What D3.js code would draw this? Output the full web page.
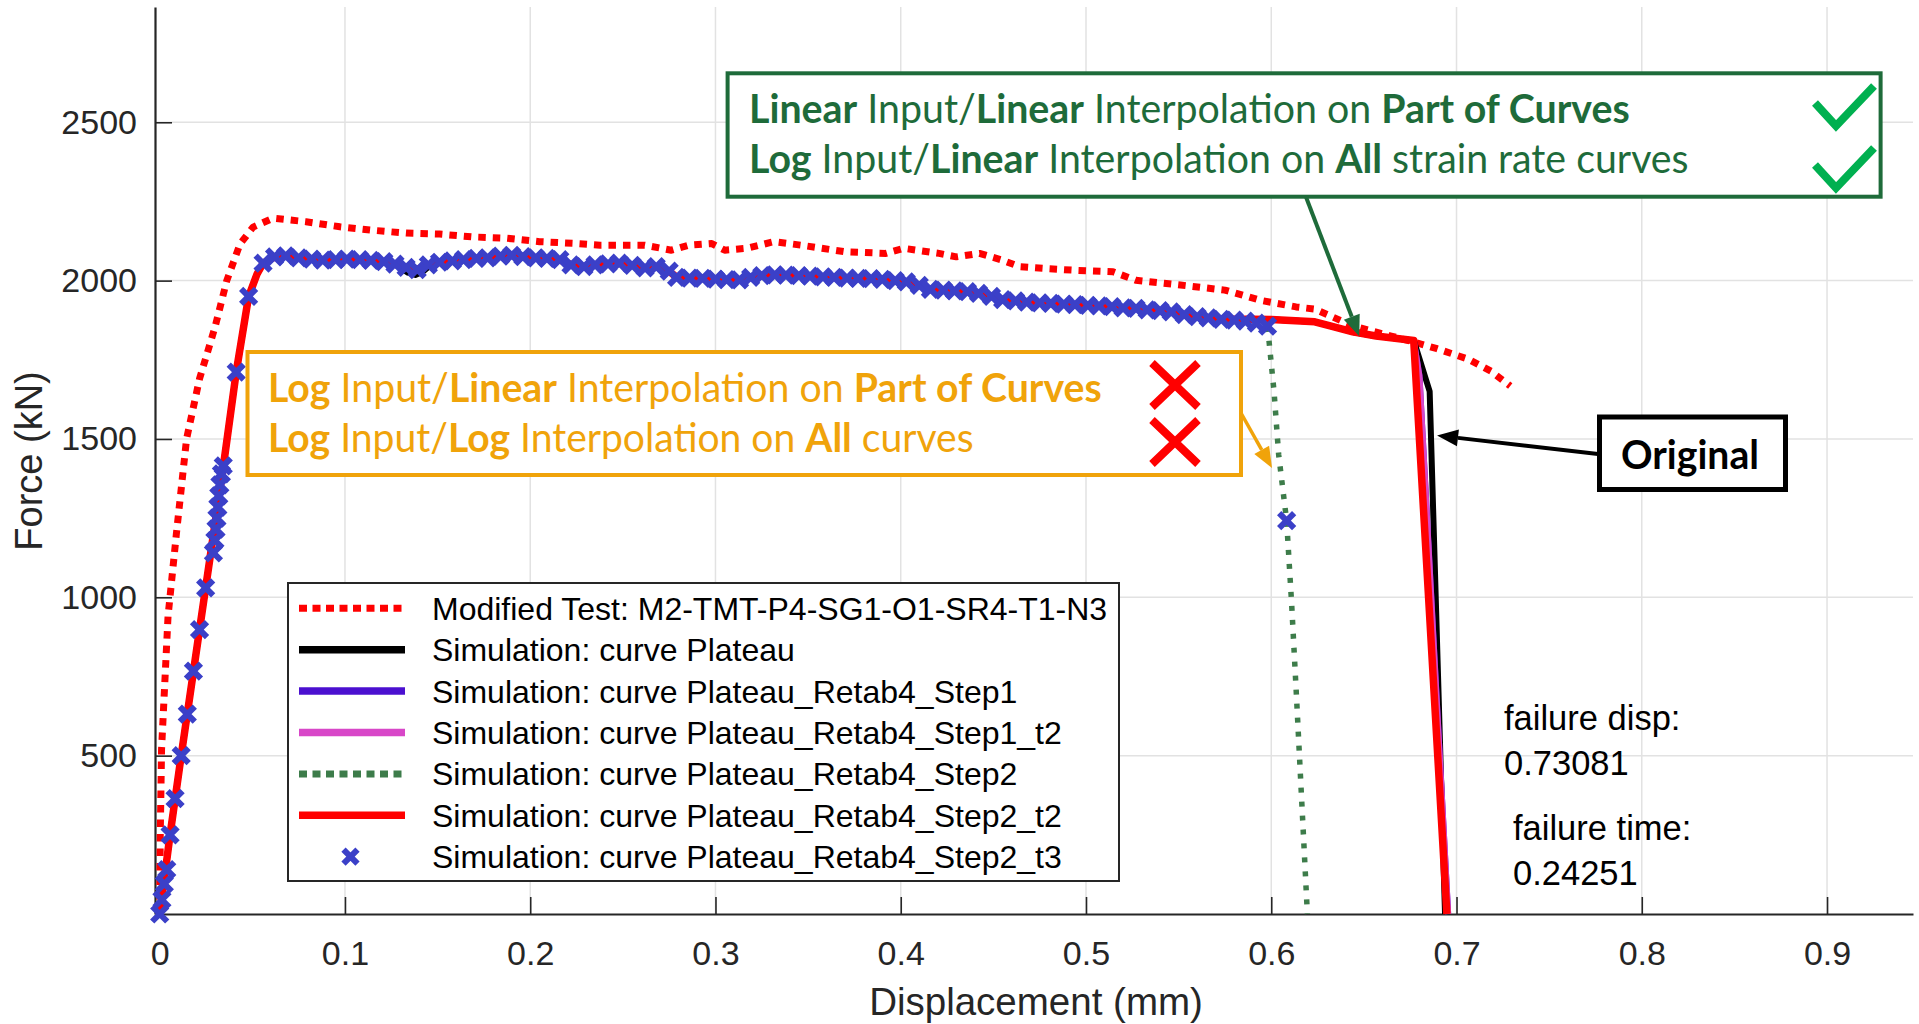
<!DOCTYPE html>
<html>
<head>
<meta charset="utf-8">
<script src="https://cdn.jsdelivr.net/npm/d3@7"></script>
<style>
  body { margin: 0; background: #fff; }
  svg { display: block; }
  .tick text { font-family: "Liberation Sans", Arial, sans-serif; font-size: 34px; fill: #262626; }
  .note { font-family: Lato, "Open Sans", sans-serif; white-space: pre; }
</style>
</head>
<body>
<svg id="chart" width="1919" height="1024"></svg>
<script>
// ---- data (displacement mm, force kN) ----
var xTicks = [0, 0.1, 0.2, 0.3, 0.4, 0.5, 0.6, 0.7, 0.8, 0.9]
var xTickLabels = ["0", "0.1", "0.2", "0.3", "0.4", "0.5", "0.6", "0.7", "0.8", "0.9"]
var yTicks = [500, 1000, 1500, 2000, 2500]
var yTickLabels = ["500", "1000", "1500", "2000", "2500"]

var testCurve = [[0, 0], [0.0003, 250], [0.001, 520], [0.0045, 940], [0.009, 1200], [0.0145, 1500],
    [0.0215, 1690], [0.0299, 1854], [0.0362, 2000], [0.0433, 2115], [0.0504, 2169], [0.0612, 2197],
    [0.079, 2186], [0.0973, 2170], [0.115, 2159], [0.133, 2150], [0.151, 2147], [0.169, 2138],
    [0.187, 2134], [0.205, 2123], [0.223, 2118], [0.2377, 2112], [0.2618, 2112], [0.2762, 2096],
    [0.2857, 2112], [0.298, 2117], [0.305, 2096], [0.317, 2102], [0.3316, 2123], [0.346, 2112],
    [0.370, 2091], [0.392, 2086], [0.4016, 2102], [0.4207, 2086], [0.430, 2075], [0.4425, 2086],
    [0.4546, 2065], [0.4642, 2044], [0.4786, 2038], [0.493, 2033], [0.5146, 2028], [0.5269, 2001],
    [0.551, 1986], [0.575, 1970], [0.594, 1938], [0.6134, 1917], [0.6235, 1910], [0.644, 1857],
    [0.6647, 1825], [0.6771, 1806], [0.6895, 1785], [0.7063, 1752], [0.7186, 1714], [0.729, 1667]]

var simRise = [[0, 0], [0.0056, 250], [0.0116, 500], [0.0215, 898], [0.0343, 1411], [0.0413, 1711],
    [0.048, 1950], [0.0525, 2020], [0.0558, 2055]]

var simPlateau = [[0.062, 2075], [0.068, 2078], [0.075, 2072], [0.082, 2068], [0.088, 2065], [0.095, 2066],
    [0.101, 2068], [0.108, 2066], [0.114, 2064], [0.121, 2060], [0.127, 2052], [0.133, 2042], [0.139, 2035],
    [0.145, 2050], [0.151, 2058], [0.158, 2062], [0.164, 2066], [0.171, 2070], [0.177, 2072], [0.184, 2077],
    [0.190, 2080], [0.196, 2076], [0.203, 2072], [0.209, 2070], [0.216, 2066], [0.222, 2050], [0.229, 2044],
    [0.235, 2050], [0.242, 2053], [0.248, 2055], [0.255, 2048], [0.262, 2040], [0.268, 2044], [0.275, 2030],
    [0.279, 2010], [0.286, 2008], [0.293, 2007], [0.300, 2005], [0.306, 2003], [0.313, 2002], [0.319, 2010],
    [0.325, 2016], [0.332, 2018], [0.338, 2017], [0.345, 2016], [0.351, 2014], [0.358, 2012], [0.364, 2010],
    [0.371, 2008], [0.377, 2007], [0.384, 2006], [0.390, 2004], [0.397, 2000], [0.403, 1996], [0.410, 1985],
    [0.416, 1972], [0.423, 1970], [0.429, 1968], [0.436, 1965], [0.442, 1960], [0.449, 1950], [0.455, 1940],
    [0.462, 1936], [0.468, 1932], [0.475, 1930], [0.481, 1928], [0.488, 1926], [0.494, 1924], [0.501, 1922],
    [0.507, 1920], [0.514, 1918], [0.520, 1914], [0.527, 1912], [0.533, 1908], [0.540, 1905], [0.546, 1901],
    [0.553, 1893], [0.560, 1886], [0.566, 1882], [0.573, 1878], [0.580, 1875], [0.586, 1872], [0.592, 1866],
    [0.598, 1856]]

// original curve dips a little below the others near 0.14
var plateauDip = [[0.130, 2040], [0.134, 2025], [0.138, 2018], [0.142, 2028], [0.146, 2048]]

var plateauTail = [[0.580, 1878], [0.590, 1878], [0.600, 1877], [0.6235, 1870], [0.6318, 1857], [0.644, 1838],
    [0.6566, 1825], [0.6769, 1811], [0.6855, 1650], [0.6938, 0]]
var step1Tail = [[0.580, 1878], [0.590, 1878], [0.600, 1877], [0.6235, 1870], [0.6318, 1857], [0.644, 1838],
    [0.6566, 1825], [0.6769, 1811], [0.6800, 1700], [0.6955, 0]]
var step2Tail = [[0.6015, 1650], [0.604, 1450], [0.6083, 1242], [0.611, 980], [0.6135, 700], [0.6165, 350], [0.6195, 0]]
var step2t2Tail = [[0.580, 1878], [0.590, 1878], [0.600, 1877], [0.6235, 1870], [0.6318, 1857], [0.644, 1838],
    [0.6566, 1825], [0.6769, 1811], [0.6948, 0]]

var markerRise = [[0, 0], [0.0012, 45], [0.0025, 95], [0.0038, 140], [0.0056, 250], [0.0083, 364], [0.0116, 500],
    [0.0149, 631], [0.0182, 767], [0.0215, 898], [0.0248, 1030], [0.0290, 1140], [0.0298, 1180], [0.0304, 1215],
    [0.0309, 1250], [0.0314, 1285], [0.0319, 1320], [0.0325, 1355], [0.0333, 1390], [0.0343, 1415],
    [0.0413, 1711], [0.048, 1950], [0.0558, 2055]]
var markerTail = [[0.6083, 1242]]

var legendNames = ["Modified Test: M2-TMT-P4-SG1-O1-SR4-T1-N3", "Simulation: curve Plateau",
    "Simulation: curve Plateau_Retab4_Step1", "Simulation: curve Plateau_Retab4_Step1_t2",
    "Simulation: curve Plateau_Retab4_Step2", "Simulation: curve Plateau_Retab4_Step2_t2",
    "Simulation: curve Plateau_Retab4_Step2_t3"]

// ---- build series ----
var beforeTail = simPlateau.filter(d => d[0] < 0.577)
var plateauCurve = simRise.concat(beforeTail.filter(d => d[0] < 0.128 || d[0] > 0.147), plateauDip, plateauTail)
    .sort((a, b) => a[0] - b[0])
var step1Curve = simRise.concat(beforeTail, step1Tail)
var step2Curve = simRise.concat(simPlateau, step2Tail)
var step2t2Curve = simRise.concat(beforeTail, step2t2Tail)
var step2t3Points = markerRise.concat(simPlateau, markerTail)

var series = [
    { data: testCurve, color: "#ff0000", width: 7, dash: "7.5,7" },
    { data: plateauCurve, color: "#000000", width: 6 },
    { data: step1Curve, color: "#4b10d0", width: 6 },
    { data: step1Curve, color: "#d847c8", width: 6 },
    { data: step2Curve, color: "#3d7c4a", width: 5.5, dash: "5,9" },
    { data: step2t2Curve, color: "#ff0000", width: 7.5 },
    { data: step2t3Points, color: "#3b40c8", marker: true }
]

var svg = d3.select("#chart")
var x = d3.scaleLinear().domain([-0.002537, 0.9464]).range([155, 1913])
var y = d3.scaleLinear().domain([0, 2864]).range([914, 7])

// grid
var grid = svg.append("g").attr("stroke", "#e2e2e2").attr("stroke-width", 1.5)
grid.selectAll(".vg").data(xTicks.slice(1)).enter().append("line")
    .attr("x1", d => x(d)).attr("x2", d => x(d)).attr("y1", y.range()[1]).attr("y2", y.range()[0])
grid.selectAll(".hg").data(yTicks).enter().append("line")
    .attr("x1", x.range()[0]).attr("x2", x.range()[1]).attr("y1", d => y(d)).attr("y2", d => y(d))

// axes
var xAxis = d3.axisBottom(x).tickValues(xTicks).tickFormat((d, i) => xTickLabels[i])
    .tickSizeInner(-17).tickSizeOuter(0).tickPadding(27)
var yAxis = d3.axisLeft(y).tickValues(yTicks).tickFormat((d, i) => yTickLabels[i])
    .tickSizeInner(-17).tickSizeOuter(0).tickPadding(18)

var gx = svg.append("g").attr("transform", "translate(0,914)").call(xAxis)
var gy = svg.append("g").attr("transform", "translate(155,0)").call(yAxis)
gx.select(".domain").attr("stroke", "#262626").attr("stroke-width", 2.2)
gy.select(".domain").attr("stroke", "#262626").attr("stroke-width", 2.2)
gx.selectAll(".tick line").attr("stroke", "#262626").attr("stroke-width", 1.6)
gy.selectAll(".tick line").attr("stroke", "#262626").attr("stroke-width", 1.6)

svg.append("text").attr("x", 1036).attr("y", 1015).attr("text-anchor", "middle")
    .attr("font-family", "Liberation Sans, Arial, sans-serif").attr("font-size", 38.5).attr("fill", "#262626")
    .text("Displacement (mm)")
svg.append("text").attr("transform", "translate(42,461) rotate(-90)").attr("text-anchor", "middle")
    .attr("font-family", "Liberation Sans, Arial, sans-serif").attr("font-size", 38).attr("fill", "#262626")
    .text("Force (kN)")

// curves
var line = d3.line().x(d => x(d[0])).y(d => y(d[1]))
function xPath(cx, cy, h) {
    return `M${cx - h},${cy - h}L${cx + h},${cy + h}M${cx - h},${cy + h}L${cx + h},${cy - h}`
}
series.forEach(function (s) {
    if (s.marker) {
        svg.append("g").selectAll("path").data(s.data).enter().append("path")
            .attr("d", d => xPath(x(d[0]), y(d[1]), 7.5))
            .attr("stroke", s.color).attr("stroke-width", 6).attr("fill", "none")
    } else {
        svg.append("path").datum(s.data).attr("d", line)
            .attr("fill", "none").attr("stroke", s.color).attr("stroke-width", s.width)
            .attr("stroke-dasharray", s.dash || null).attr("stroke-linejoin", "round")
    }
})

// legend
var lg = svg.append("g")
lg.append("rect").attr("x", 288).attr("y", 583).attr("width", 831).attr("height", 298)
    .attr("fill", "#fff").attr("stroke", "#262626").attr("stroke-width", 2)
series.forEach(function (s, i) {
    var cy = 608.3 + i * 41.4
    if (s.marker) {
        lg.append("path").attr("d", xPath(350.5, cy, 7)).attr("stroke", s.color).attr("stroke-width", 6)
    } else {
        lg.append("line").attr("x1", 299).attr("x2", 405).attr("y1", cy).attr("y2", cy)
            .attr("stroke", s.color).attr("stroke-width", s.dash ? 7 : 7.5)
            .attr("stroke-dasharray", s.dash ? "8,5.5" : null)
    }
    lg.append("text").attr("x", 432).attr("y", cy + 11.5)
        .attr("font-family", "Liberation Sans, Arial, sans-serif").attr("font-size", 32).attr("fill", "#000")
        .text(legendNames[i])
})

// failure notes
var notes = [["failure disp:", 1504, 730], ["0.73081", 1504, 775], ["failure time:", 1513, 840], ["0.24251", 1513, 885]]
notes.forEach(function (n) {
    svg.append("text").attr("x", n[1]).attr("y", n[2])
        .attr("font-family", "Liberation Sans, Arial, sans-serif").attr("font-size", 34.5).attr("fill", "#000")
        .text(n[0])
})

// annotation boxes
function arrow(x1, y1, x2, y2, color, w) {
    var a = Math.atan2(y2 - y1, x2 - x1), L = 21, H = 8.5
    var bx = x2 - L * Math.cos(a), by = y2 - L * Math.sin(a)
    svg.append("line").attr("x1", x1).attr("y1", y1).attr("x2", bx).attr("y2", by)
        .attr("stroke", color).attr("stroke-width", w)
    svg.append("path").attr("fill", color)
        .attr("d", `M${x2},${y2}L${bx + H * Math.sin(a)},${by - H * Math.cos(a)}L${bx - H * Math.sin(a)},${by + H * Math.cos(a)}Z`)
}
// mixed bold/regular line, squeezed horizontally to the width seen in the picture
function richText(xp, yp, parts, color, len, size) {
    var t = svg.append("text").attr("class", "note").attr("x", 0).attr("y", 0)
        .attr("font-size", size).attr("fill", color)
    parts.forEach(p => t.append("tspan").attr("font-weight", p[1] ? 700 : 400).text(p[0]))
    var w = t.node().getComputedTextLength()
    t.attr("transform", `translate(${xp},${yp}) scale(${len / w},1)`)
}
function check(x0, y0, color) {
    svg.append("path").attr("d", `M${x0},${y0 + 17}L${x0 + 21},${y0 + 40}L${x0 + 59},${y0}`)
        .attr("fill", "none").attr("stroke", color).attr("stroke-width", 8)
}
function cross(x0, y0) {
    svg.append("path").attr("d", `M${x0},${y0}L${x0 + 46},${y0 + 44}M${x0},${y0 + 44}L${x0 + 46},${y0}`)
        .attr("fill", "none").attr("stroke", "#ff0000").attr("stroke-width", 8)
}

var green = "#1e6b3a", greenCheck = "#00b050", orange = "#f0a30a"

svg.append("rect").attr("x", 727.6).attr("y", 73.3).attr("width", 1153).attr("height", 123.4)
    .attr("fill", "#fff").attr("stroke", green).attr("stroke-width", 4)
richText(749, 123, [["Linear", 1], [" Input/", 0], ["Linear", 1], [" Interpolation on ", 0], ["Part of Curves", 1]], green, 881, 40)
richText(749, 173, [["Log", 1], [" Input/", 0], ["Linear", 1], [" Interpolation on ", 0], ["All", 1], [" strain rate curves", 0]], green, 940, 40)
check(1815, 86, greenCheck)
check(1815, 148, greenCheck)
arrow(1306, 197, x(0.6475), y(1824), green, 4)

svg.append("rect").attr("x", 247.5).attr("y", 352).attr("width", 993.5).attr("height", 123)
    .attr("fill", "#fff").attr("stroke", orange).attr("stroke-width", 4)
richText(268, 402, [["Log", 1], [" Input/", 0], ["Linear", 1], [" Interpolation on ", 0], ["Part of Curves", 1]], orange, 834, 40)
richText(268, 452, [["Log", 1], [" Input/", 0], ["Log", 1], [" Interpolation on ", 0], ["All", 1], [" curves", 0]], orange, 706, 40)
cross(1152, 363)
cross(1152, 420)
arrow(1241, 413, x(0.6004), y(1408), orange, 3.5)

svg.append("rect").attr("x", 1599.5).attr("y", 417).attr("width", 186).attr("height", 72.5)
    .attr("fill", "#fff").attr("stroke", "#000").attr("stroke-width", 5)
richText(1621, 468.5, [["Original", 1]], "#000", 138, 40)
arrow(1598, 454, x(0.6895), y(1511), "#000", 4)
</script>
</body>
</html>
